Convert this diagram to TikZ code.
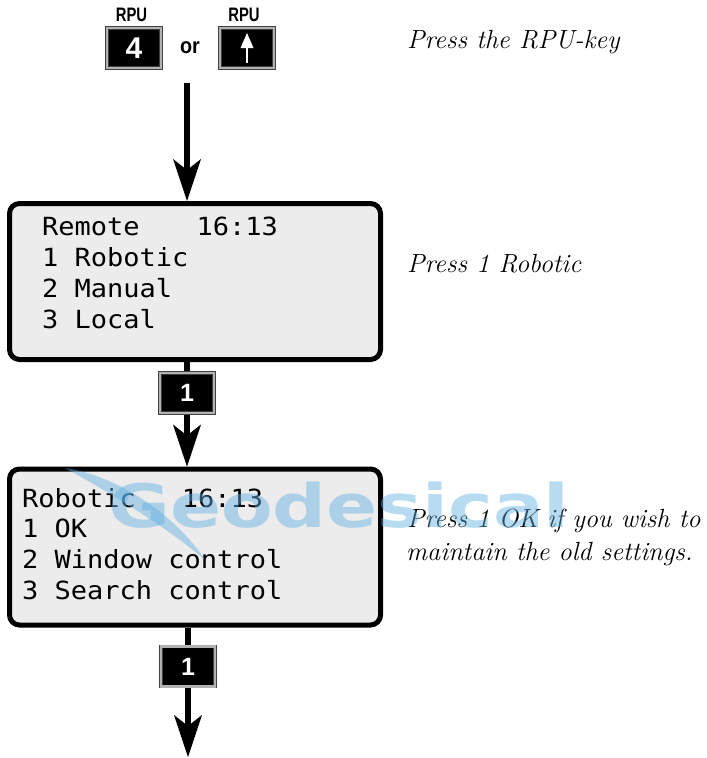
\documentclass[tikz,border=0pt]{standalone}
\usepackage{fontspec}
\usetikzlibrary{arrows.meta}
\newfontfamily\lcdfont[FakeStretch=1.08]{DejaVu Sans Mono}
\newfontfamily\keyfont{Liberation Sans}
\newfontfamily\wmfont{DejaVu Sans}
\definecolor{lcdbg}{RGB}{236,236,236}
\definecolor{wmblue}{RGB}{95,175,225}
\pgfdeclarelayer{background}
\pgfsetlayers{background,main}
\tikzset{
  keybox/.style={fill=black, draw=black!75, line width=0.8pt, double=gray!60,
    double distance=2.2pt, minimum width=54pt, minimum height=40pt,
    inner sep=0pt, text=white},
  screen/.style={draw=black, line width=5pt, fill=lcdbg, rounded corners=10pt,
    minimum width=371pt, minimum height=156pt, inner sep=0pt},
  lcdline/.style={anchor=base west, inner sep=0pt,
    font=\lcdfont\fontsize{25}{25}\selectfont},
  note/.style={anchor=base west, inner sep=0pt,
    font=\itshape\fontsize{26.3}{26.3}\selectfont},
  keylabel/.style={anchor=base, inner sep=0pt},
  flow/.style={line width=5.5pt,
    -{Stealth[length=42pt, width=28pt, inset=11pt, line width=0pt]}},
}
\begin{document}
\begin{tikzpicture}[x=1pt,y=-1pt]
\useasboundingbox (0,0) rectangle (707,758);

% RPU keys
\node[keylabel, font=\keyfont\bfseries\fontsize{19.5}{19.5}\selectfont] (rpu1) at (131.5,21) {\scalebox{0.76}[1]{RPU}};
\node[keylabel, font=\keyfont\bfseries\fontsize{19.5}{19.5}\selectfont] (rpu2) at (244,21) {\scalebox{0.76}[1]{RPU}};
\node[keybox, font=\keyfont\bfseries\fontsize{30}{30}\selectfont] (k4) at (134,48) {4};
\node[keybox] (kup) at (247,48) {};
\fill[white] (245.6,63) rectangle (248.4,46);
\fill[white] (240.5,48) -- (247,33) -- (253.5,48) -- cycle;
\node[keylabel, font=\keyfont\bfseries\fontsize{22}{22}\selectfont] (orword) at (190,53) {\scalebox{0.9}[1]{or}};

% screens
\node[screen] (scr1) at (195,281.5) {};
\node[screen] (scr2) at (195,547) {};

% keys "1"
\node[keybox, font=\keyfont\bfseries\fontsize{25}{25}\selectfont] (k1) at (187,393) {1};
\node[keybox, font=\keyfont\bfseries\fontsize{25}{25}\selectfont] (k2) at (188,666.5) {1};

\coordinate (a0) at (187,83);
\coordinate (aend) at (188,757);

\begin{pgfonlayer}{background}
\draw[flow] (a0) -- (scr1.north -| a0);
\draw[flow] (scr1.south -| k1) -- (scr2.north -| k1);
\draw[flow] (scr2.south -| k2) -- (aend);
\end{pgfonlayer}

% screen texts
\node[lcdline] (s1a) at (42,235) {Remote\hspace{57pt}16:13};
\node[lcdline] (s1b) at (42,266) {1 Robotic};
\node[lcdline] (s1c) at (42,297) {2 Manual};
\node[lcdline] (s1d) at (42,328) {3 Local};

\node[lcdline] (s2a) at (22,507) {Robotic\hspace{46pt}16:13};
\node[lcdline] (s2b) at (22,537) {1 OK};
\node[lcdline] (s2c) at (22,568) {2 Window control};
\node[lcdline] (s2d) at (22,599) {3 Search control};

% notes
\node[note] (n1) at (407,48) {Press the RPU-key};
\node[note] (n2) at (407,272) {Press 1 Robotic};
\node[note] (n3) at (407,527) {Press 1 OK if you wish to};
\node[note] (n4) at (406,560) {maintain the old settings.};

% watermark
\fill[wmblue, opacity=0.45] (65,468) .. controls (120,476) and (178,518) .. (205,560)
   .. controls (168,528) and (112,494) .. (65,468) -- cycle;
\node[anchor=base, inner sep=0pt, text=wmblue, text opacity=0.45,
      font=\wmfont\bfseries\fontsize{60}{60}\selectfont] (wmark) at (339,527)
      {\scalebox{1.255}[1]{Geodesical}};
\end{tikzpicture}
\end{document}
